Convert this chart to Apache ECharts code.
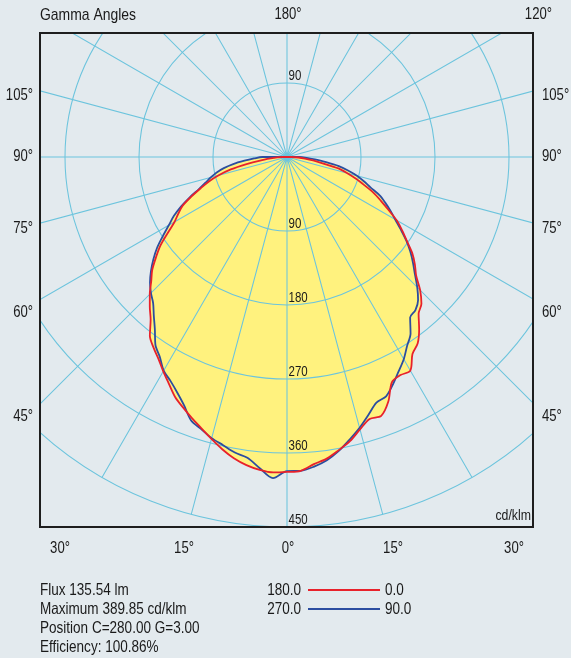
<!DOCTYPE html>
<html><head><meta charset="utf-8">
<script src="https://cdn.jsdelivr.net/npm/echarts@6/dist/echarts.min.js"></script>
<style>html,body{margin:0;padding:0;background:#e3eaee;} #c{width:571px;height:658px;}</style>
</head><body><div id="c"></div>
<script>
// Gamma angles (deg) and luminous intensity (cd/klm) per C-plane
const gammas = [0,2.5,5,7.5,10,12.5,15,17.5,20,22.5,25,27.5,30,32.5,35,37.5,40,42.5,45,47.5,50,52.5,55,57.5,60,62.5,65,67.5,70,72.5,75,77.5,80,82.5,85,87.5,90,95];
const c0   = [383,382,375,370,362,354,343,334,335,322,302,299,300,284,277,264,249,242,229,213,203,192,178,166,154,139,126,114,100,88,76,64,44,32,22,14,6,0];
const c180 = [383,384,382,378,372,364,355,346,338,330,322,311,301,291,283,274,258,247,236,224,214,201,188,172,158,149,140,126,112,100,86,70,50,33,20,12,6,0];
const c90  = [382,382,378,372,363,352,341,329,318,315,305,294,284,272,262,246,243,236,224,211,200,189,177,164,152,142,132,122,108,98,88,76,64,48,34,24,14,0];
const c270 = [382,391,380,369,365,359,354,347,341,327,316,307,300,288,279,264,252,241,234,226,216,205,193,179,166,155,142,128,114,104,96,88,78,66,52,40,30,0];

const ringValues = [90,180,270,360,450];
const gridAngleStep = 15;
const spokeEnd = 600; // cd/klm, beyond the frame
const sideLabels = ['105°','90°','75°','60°','45°'];
const bottomLabels = ['30°','15°','0°','15°','30°'];
const topTitle = 'Gamma Angles';
const topLabels = ['180°','120°'];
const unitLabel = 'cd/klm';
const infoLines = ['Flux 135.54 lm','Maximum 389.85 cd/klm','Position C=280.00 G=3.00','Efficiency: 100.86%'];
const legendRows = [['180.0','0.0'],['270.0','90.0']];

const BG = '#e3eaee', GRID = '#6cc4dd', YEL = '#fff27e', RED = '#e8212b', BLUE = '#2b4da0';
const FONT = "'Liberation Sans',Arimo,Arial,sans-serif";
const NARROW = 0.82;

function plane(left, right) {
  const pts = [];
  for (let i = left.length - 1; i >= 0; i--) pts.push([left[i], -gammas[i]]);
  for (let i = 0; i < right.length; i++) pts.push([right[i], gammas[i]]);
  return pts;
}
const redData = plane(c180, c0);
const blueData = plane(c270, c90);

const spokes = [];
for (let a = -180; a < 180; a += gridAngleStep) { spokes.push([0, a], [spokeEnd, a], '-'); }

const chart = echarts.init(document.getElementById('c'), null, {renderer: 'canvas'});
const CX = 287, CY = 157;
const option = {
  backgroundColor: BG,
  animation: false,
  polar: {center: [CX, CY], radius: 370},
  angleAxis: {type: 'value', min: -180, max: 180, interval: 15, startAngle: 90, clockwise: false,
    axisLine: {show: false}, axisTick: {show: false}, axisLabel: {show: false}, splitLine: {show: false}, splitArea: {show: false}},
  radiusAxis: {type: 'value', min: 0, max: 450, interval: 90, z: 2,
    axisLine: {show: false}, axisTick: {show: false}, axisLabel: {show: false}, splitArea: {show: false},
    splitLine: {show: true, lineStyle: {color: GRID, width: 1.05}}},
  series: [
    {type: 'line', coordinateSystem: 'polar', data: redData, symbol: 'none', smooth: 0.3, z: 1,
     lineStyle: {width: 0, opacity: 0}, areaStyle: {color: YEL, opacity: 1}, silent: true},
    {type: 'line', coordinateSystem: 'polar', data: blueData, symbol: 'none', smooth: 0.3, z: 1,
     lineStyle: {width: 0, opacity: 0}, areaStyle: {color: YEL, opacity: 1}, silent: true},
    {type: 'line', coordinateSystem: 'polar', data: spokes, symbol: 'none', z: 2, silent: true, clip: false,
     connectNulls: false, lineStyle: {color: GRID, width: 1.05}},
    {type: 'line', coordinateSystem: 'polar', data: blueData, symbol: 'none', smooth: 0.3, z: 3,
     lineStyle: {color: BLUE, width: 1.8}},
    {type: 'line', coordinateSystem: 'polar', data: redData, symbol: 'none', smooth: 0.3, z: 4,
     lineStyle: {color: RED, width: 1.8}}
  ]
};
chart.setOption(option);

function txt(text, x, y, align, size, z) {
  return {type: 'text', x: x, y: y, z: z || 60, silent: true, scaleX: NARROW,
    style: {text: text, fill: '#1a1a1a', font: (size || 15) + 'px ' + FONT, align: align, verticalAlign: 'middle'}};
}
const g = [];
g.push({type: 'rect', z: 50, silent: true, shape: {x: 0, y: 0, width: 571, height: 33}, style: {fill: BG}});
g.push({type: 'rect', z: 50, silent: true, shape: {x: 0, y: 528, width: 571, height: 130}, style: {fill: BG}});
g.push({type: 'rect', z: 50, silent: true, shape: {x: 0, y: 0, width: 40, height: 658}, style: {fill: BG}});
g.push({type: 'rect', z: 50, silent: true, shape: {x: 533, y: 0, width: 38, height: 658}, style: {fill: BG}});
g.push({type: 'rect', z: 51, silent: true, shape: {x: 40, y: 33, width: 493, height: 494}, style: {fill: null, stroke: '#1e1e1e', lineWidth: 2}});

ringValues.forEach(function (v) {
  const p = chart.convertToPixel({polarIndex: 0}, [v, 0]);
  g.push(txt(String(v), p[0] + 1.5, p[1] - 7, 'left', 14, 45));
});
const pTop = chart.convertToPixel({polarIndex: 0}, [ringValues[0], 180]);
g.push(txt(String(ringValues[0]), pTop[0] + 1.5, pTop[1] - 7, 'left', 14, 45));

g.push(txt(unitLabel, 531, 516, 'right', 15, 52));
g.push(txt(topTitle, 40, 15, 'left', 17));
g.push(txt(topLabels[0], 288, 15, 'center', 16));
g.push(txt(topLabels[1], 552, 15, 'right', 16));
const sideY = [96, 157, 229, 313, 417];
sideLabels.forEach(function (s, i) {
  g.push(txt(s, 33, sideY[i], 'right', 16));
  g.push(txt(s, 542, sideY[i], 'left', 16));
});
const bottomX = [60, 184, 288, 393, 514];
bottomLabels.forEach(function (s, i) { g.push(txt(s, bottomX[i], 549, 'center', 16)); });
const infoY = [590, 609, 628, 647];
infoLines.forEach(function (s, i) { g.push(txt(s, 40, infoY[i], 'left', 16.5)); });
const legColors = [RED, BLUE];
legendRows.forEach(function (r, i) {
  const y = infoY[i];
  g.push(txt(r[0], 301, y, 'right', 16.5));
  g.push({type: 'line', z: 60, silent: true, shape: {x1: 308, y1: y, x2: 380, y2: y}, style: {stroke: legColors[i], lineWidth: 2}});
  g.push(txt(r[1], 385, y, 'left', 16.5));
});
chart.setOption({graphic: {elements: g}});
</script>
</body></html>
